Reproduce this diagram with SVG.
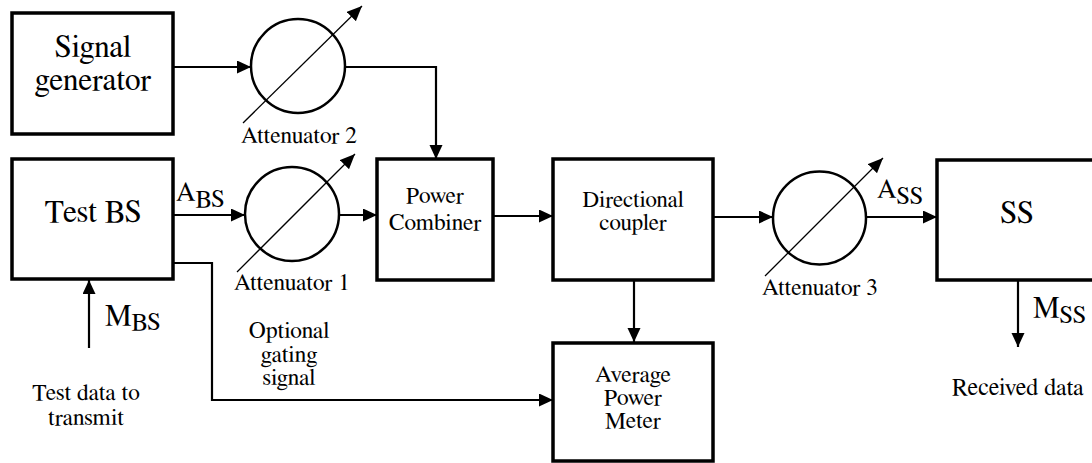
<svg xmlns="http://www.w3.org/2000/svg" width="1092" height="463" viewBox="0 0 1092 463">
<style>
.box{fill:#fff;stroke:#000;stroke-width:3.5}
.att{fill:none;stroke:#000;stroke-width:2.5}
.con{fill:none;stroke:#000;stroke-width:2.2}
.dia{fill:none;stroke:#000;stroke-width:1.3}
text{fill:#000}
.big{font-size:31.5px;text-anchor:middle}
.sm{font-size:23.5px;text-anchor:middle}
.lab{font-size:27px}
.sub{font-size:25px}
</style>
<defs>
<marker id="ah" markerUnits="userSpaceOnUse" markerWidth="15" markerHeight="14" refX="14" refY="6.5" orient="auto">
<path d="M0,0 L14,6.5 L0,13 z" fill="#000"/>
</marker>
<marker id="ahs" markerUnits="userSpaceOnUse" markerWidth="16" markerHeight="14" refX="15" refY="6.5" orient="auto">
<path d="M0,0 L15,6.5 L0,13 z" fill="#000"/>
</marker>
</defs>

<g id="connectors">
<line class="con" x1="173" y1="67" x2="251" y2="67" marker-end="url(#ah)"/>
<polyline class="con" points="345,67 436,67 436,159" marker-end="url(#ah)"/>
<line class="con" x1="173" y1="215" x2="245" y2="215" marker-end="url(#ah)"/>
<line class="con" x1="339" y1="215" x2="377" y2="215" marker-end="url(#ah)"/>
<line class="con" x1="493" y1="216" x2="553" y2="216" marker-end="url(#ah)"/>
<line class="con" x1="634" y1="280" x2="634" y2="342" marker-end="url(#ah)"/>
<line class="con" x1="713" y1="217" x2="773" y2="217" marker-end="url(#ah)"/>
<line class="con" x1="866" y1="217" x2="937" y2="217" marker-end="url(#ah)"/>
<polyline class="con" points="173,263 212,263 212,400 553,400" marker-end="url(#ah)"/>
<line class="con" x1="89" y1="348" x2="89" y2="280" marker-end="url(#ah)"/>
<line class="con" x1="1018" y1="280" x2="1018" y2="347" marker-end="url(#ah)"/>
</g>

<g id="signal-generator" font-family="LiberationSerif, FreeSerif, serif">
<rect class="box" x="12" y="13" width="161" height="121"/>
<text class="big" x="93" y="57">Signal</text>
<text class="big" x="93" y="90">generator</text>
</g>

<g id="attenuator-2" font-family="LiberationSerif, FreeSerif, serif">
<circle class="att" cx="298" cy="66" r="47"/>
<line class="dia" x1="243" y1="123" x2="362" y2="6" marker-end="url(#ahs)"/>
<text class="sm" x="299" y="143">Attenuator 2</text>
</g>

<g id="test-bs" font-family="LiberationSerif, FreeSerif, serif">
<rect class="box" x="12" y="159" width="161" height="120"/>
<text class="big" x="93" y="222">Test BS</text>
<text class="lab" x="176" y="201">A<tspan class="sub" dy="6">BS</tspan></text>
<text class="lab" x="105" y="325" style="font-size:30px">M<tspan class="sub" dy="5">BS</tspan></text>
<text class="sm" x="86" y="400">Test data to</text>
<text class="sm" x="86" y="425">transmit</text>
</g>

<g id="attenuator-1" font-family="LiberationSerif, FreeSerif, serif">
<circle class="att" cx="292" cy="214" r="47"/>
<line class="dia" x1="237" y1="272" x2="355" y2="154" marker-end="url(#ahs)"/>
<text class="sm" x="292" y="290">Attenuator 1</text>
</g>

<g id="gating-label" font-family="LiberationSerif, FreeSerif, serif">
<text class="sm" x="289" y="338">Optional</text>
<text class="sm" x="289" y="362">gating</text>
<text class="sm" x="289" y="385">signal</text>
</g>

<g id="power-combiner" font-family="LiberationSerif, FreeSerif, serif">
<rect class="box" x="377" y="159" width="116" height="121"/>
<text class="sm" x="435" y="203">Power</text>
<text class="sm" x="435" y="230">Combiner</text>
</g>

<g id="directional-coupler" font-family="LiberationSerif, FreeSerif, serif">
<rect class="box" x="553" y="159" width="160" height="121"/>
<text class="sm" x="633" y="207" style="font-size:23px">Directional</text>
<text class="sm" x="633" y="230" style="font-size:23px">coupler</text>
</g>

<g id="average-power-meter" font-family="LiberationSerif, FreeSerif, serif">
<rect class="box" x="553" y="343" width="160" height="118"/>
<text class="sm" x="633" y="382">Average</text>
<text class="sm" x="633" y="405">Power</text>
<text class="sm" x="633" y="428">Meter</text>
</g>

<g id="attenuator-3" font-family="LiberationSerif, FreeSerif, serif">
<circle class="att" cx="819.5" cy="218" r="46.5"/>
<line class="dia" x1="765" y1="276" x2="883" y2="158" marker-end="url(#ahs)"/>
<text class="sm" x="820" y="295">Attenuator 3</text>
<text class="lab" x="877" y="198">A<tspan class="sub" dy="6">SS</tspan></text>
</g>

<g id="ss" font-family="LiberationSerif, FreeSerif, serif">
<rect class="box" x="937" y="160" width="200" height="120"/>
<text class="big" x="1017" y="223">SS</text>
<text class="lab" x="1033" y="317" style="font-size:30px">M<tspan class="sub" dy="6">SS</tspan></text>
<text class="sm" x="952" y="395" style="text-anchor:start;font-size:24px">Received data</text>
</g>
</svg>
